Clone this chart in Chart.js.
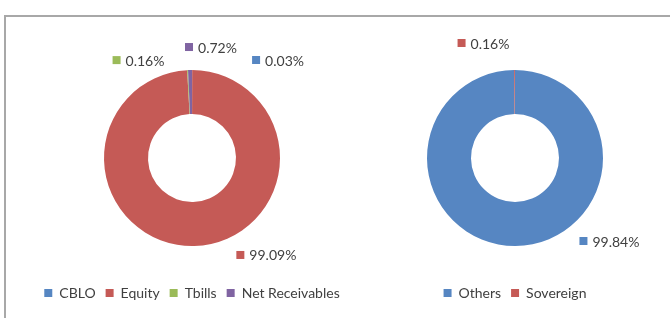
<!DOCTYPE html>
<html>
<head>
<meta charset="utf-8">
<script src="https://cdn.jsdelivr.net/npm/chart.js@4"></script>
<style>
  body { margin: 0; width: 670px; height: 318px; overflow: hidden; background: #fff; position: relative; }
  #frame { position: absolute; left: 4px; top: 15px; width: 700px; height: 320px; border-left: 2px solid #a8a8a8; border-top: 2px solid #a8a8a8; }
  #left { position: absolute; left: 0; top: 0; }
  #right { position: absolute; left: 350px; top: 0; }
</style>
</head>
<body>
<div id="frame"></div>
<canvas id="left" width="384" height="330"></canvas>
<canvas id="right" width="330" height="330"></canvas>
<script>
const assetLabels = ['CBLO', 'Equity', 'Tbills', 'Net Receivables'];
const assetValues = [0.03, 99.09, 0.16, 0.72];
const assetColors = ['#5686C2', '#C55A56', '#9BBB59', '#8064A2'];

const ratingLabels = ['Others', 'Sovereign'];
const ratingValues = [99.84, 0.16];
const ratingColors = ['#5686C2', '#C55A56'];

const FONT = 'Lato, "Liberation Sans", sans-serif';

// draws excel style outside labels: small colour key + value
const outsideLabels = {
    id: 'outsideLabels',
    afterDraw(chart, args, opts) {
        const ctx = chart.ctx;
        const meta = chart.getDatasetMeta(0);
        const ds = chart.data.datasets[0];
        ctx.save();
        ctx.font = '14px ' + FONT;
        ctx.textBaseline = 'middle';
        meta.data.forEach((arc, i) => {
            const p = arc.getProps(['x', 'y', 'startAngle', 'endAngle', 'outerRadius'], true);
            const mid = (p.startAngle + p.endAngle) / 2;
            const off = opts.offsets[i];
            const ax = p.x + Math.cos(mid) * p.outerRadius + off[0];
            const ay = p.y + Math.sin(mid) * p.outerRadius + off[1];
            ctx.fillStyle = ds.backgroundColor[i];
            ctx.fillRect(ax, ay - 4, 8, 8);
            ctx.fillStyle = '#404040';
            ctx.fillText(ds.data[i].toFixed(2) + '%', ax + 13, ay + 1);
        });
        ctx.restore();
    }
};

function makeDonut(id, labels, values, colors, offsets, padTop) {
    return new Chart(document.getElementById(id), {
        type: 'doughnut',
        data: {
            labels: labels,
            datasets: [{
                data: values,
                backgroundColor: colors,
                borderWidth: 0,
                radius: 88,
                cutout: '50%'
            }]
        },
        options: {
            responsive: false,
            animation: false,
            layout: { padding: { top: padTop, bottom: 20 } },
            plugins: {
                tooltip: { enabled: false },
                legend: {
                    position: 'bottom',
                    labels: {
                        boxWidth: 8,
                        boxHeight: 8,
                        padding: 10,
                        color: '#404040',
                        font: { family: FONT, size: 14 }
                    }
                },
                outsideLabels: { offsets: offsets }
            }
        },
        plugins: [outsideLabels]
    });
}

makeDonut('left', assetLabels, assetValues, assetColors,
    [[60, -10], [42, 9], [-75, -10], [-5, -23]], 40);
makeDonut('right', ratingLabels, ratingValues, ratingColors,
    [[64, -5], [-57, -27]], 40);
</script>
</body>
</html>
